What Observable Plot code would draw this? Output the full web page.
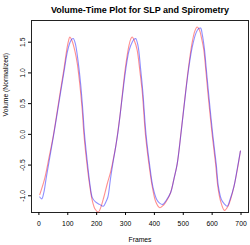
<!DOCTYPE html>
<html>
<head>
<meta charset="utf-8">
<script src="https://cdn.jsdelivr.net/npm/d3@7"></script>
<script src="https://cdn.jsdelivr.net/npm/@observablehq/plot@0.6"></script>
<style>
  html, body { margin: 0; padding: 0; background: #fff; }
  svg { display: block; }
</style>
</head>
<body>
<div id="chart"></div>
<script>
const title = "Volume-Time Plot for SLP and Spirometry";
const xLabel = "Frames";
const yLabel = "Volume (Normalized)";
const xTicks = [0, 100, 200, 300, 400, 500, 600, 700];
const yTicks = [-1.0, -0.5, 0.0, 0.5, 1.0, 1.5];

const redFrames = [3, 20, 35, 50, 62, 75, 87, 98, 103, 107, 115, 125, 133, 142, 150, 156, 165, 175, 185, 195, 206, 215, 225, 237, 248, 258, 266, 274, 282, 289, 300, 312, 318, 323, 331, 340, 350, 358, 369, 381, 393, 405, 419, 432, 445, 456, 468, 479, 493, 508, 519, 531, 540, 548, 556, 564, 571, 578, 585, 600, 612, 620, 630, 643, 655, 665, 675, 687, 698];
const redValues = [-0.98, -0.72, -0.38, -0.02, 0.33, 0.72, 1.07, 1.42, 1.53, 1.585, 1.52, 1.35, 1.15, 0.80, 0.40, 0.0, -0.42, -0.80, -1.08, -1.22, -1.265, -1.18, -1.02, -0.80, -0.62, -0.40, -0.20, 0.06, 0.35, 0.65, 1.10, 1.45, 1.55, 1.585, 1.52, 1.38, 1.02, 0.69, 0.0, -0.48, -0.86, -1.10, -1.194, -1.15, -1.06, -0.95, -0.72, -0.48, 0.065, 0.69, 1.12, 1.50, 1.68, 1.748, 1.70, 1.55, 1.38, 1.05, 0.69, 0.0, -0.48, -0.86, -1.10, -1.238, -1.17, -1.04, -0.86, -0.58, -0.27];

const blueFrames = [3, 10, 17, 25, 35, 50, 62, 75, 87, 98, 108, 114, 119, 126, 136, 145, 152, 158, 167, 177, 185, 196, 210, 223, 232, 239, 248, 258, 266, 274, 289, 300, 312, 323, 330, 335, 343, 352, 360, 371, 383, 395, 408, 418, 429, 440, 456, 468, 479, 493, 508, 519, 531, 545, 553, 560, 566, 573, 580, 588, 602, 614, 622, 632, 642, 652, 662, 675, 687, 698];
const blueValues = [-1.02, -1.05, -0.95, -0.72, -0.45, -0.04, 0.30, 0.68, 1.02, 1.33, 1.50, 1.55, 1.56, 1.48, 1.18, 0.80, 0.40, 0.0, -0.42, -0.82, -1.03, -1.10, -1.14, -1.17, -1.10, -1.02, -0.72, -0.42, -0.20, 0.04, 0.62, 1.03, 1.36, 1.50, 1.55, 1.56, 1.45, 1.08, 0.69, 0.0, -0.48, -0.86, -1.06, -1.12, -1.14, -1.08, -0.95, -0.72, -0.48, 0.05, 0.67, 1.08, 1.42, 1.66, 1.72, 1.73, 1.62, 1.40, 1.05, 0.65, 0.0, -0.48, -0.86, -1.06, -1.13, -1.17, -1.06, -0.86, -0.56, -0.27];

const red = redFrames.map((f, i) => ({frame: f, value: redValues[i]}));
const blue = blueFrames.map((f, i) => ({frame: f, value: blueValues[i]}));

const font = "Liberation Sans, Arial, Helvetica, sans-serif";

const chart = Plot.plot({
  width: 250,
  height: 245,
  marginLeft: 31,
  marginRight: 2,
  marginTop: 20,
  marginBottom: 33,
  style: {fontFamily: font, fontSize: "6.8px", color: "#000", background: "#fff"},
  x: {domain: [-25.6, 725.9]},
  y: {domain: [-1.272, 1.853]},
  marks: [
    Plot.frame({stroke: "#222", strokeWidth: 1}),
    Plot.line(red, {x: "frame", y: "value", stroke: "#ff2020", strokeOpacity: 0.5, strokeWidth: 1.1, curve: "catmull-rom"}),
    Plot.line(blue, {x: "frame", y: "value", stroke: "#2020ff", strokeOpacity: 0.5, strokeWidth: 1.1, curve: "catmull-rom"}),
    Plot.axisX({ticks: xTicks, tickSize: 3, tickPadding: 6, label: null, tickFormat: d => String(d)}),
    Plot.axisY({ticks: yTicks, tickSize: 3, tickPadding: 4, tickRotate: -90, label: null, tickFormat: d => d.toFixed(1)}),
    Plot.text([title], {frameAnchor: "top", dy: -14, fontWeight: "bold", fontSize: 9}),
    Plot.text([xLabel], {frameAnchor: "bottom", dy: 29, fontSize: 6.8}),
    Plot.text([yLabel], {frameAnchor: "left", dx: -26, rotate: -90, fontSize: 6.8})
  ]
});

document.getElementById("chart").appendChild(chart);
</script>
</body>
</html>
